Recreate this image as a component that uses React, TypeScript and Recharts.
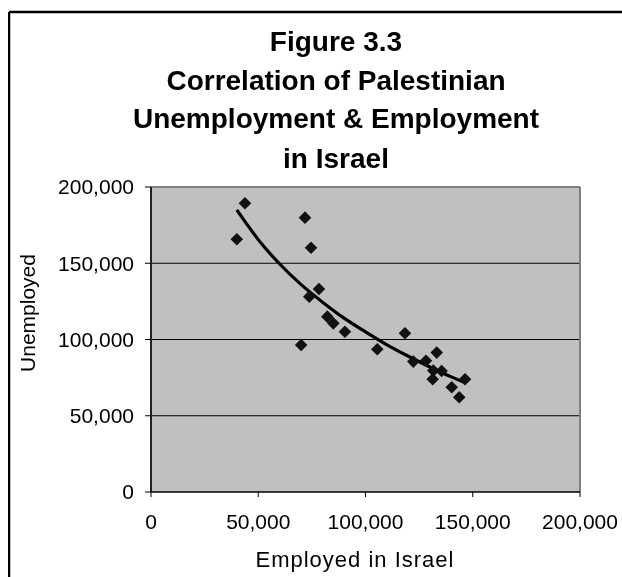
import React from "react";
import {
  CartesianGrid,
  ReferenceLine,
  Scatter,
  ScatterChart,
  XAxis,
  YAxis,
} from "recharts";

// observed years: employed in Israel vs unemployed
const employed = [
  43800, 40000, 71800, 74600, 78300, 73800, 82200, 85000, 70000, 90400, 105500,
  118400, 122300, 128200, 133200, 131600, 135500, 131300, 140200, 146400, 143700,
];
const unemployed = [
  189300, 165700, 179900, 160200, 133100, 128100, 115000, 110600, 96400, 105100,
  93600, 104100, 85500, 86100, 91400, 79600, 79300, 73900, 68700, 73900, 62100,
];

// trend line
const trendX = [
  40000, 45000, 50000, 60000, 70000, 80000, 90000, 100000, 110000, 120000,
  130000, 140000, 146000,
];
const trendY = [
  185000, 175000, 165500, 149500, 136000, 124500, 114000, 105000, 96500, 89000,
  82000, 75500, 72000,
];

const axisTicks = [0, 50000, 100000, 150000, 200000];
const gridValues = [50000, 100000, 150000];

const titleLines = [
  "Figure 3.3",
  "Correlation of Palestinian",
  "Unemployment & Employment",
  "in Israel",
];
const titleBaselines = [43, 81.5, 120, 160];

const FONT = "'Liberation Sans', Arial, Helvetica, sans-serif";

const points = employed.map((x, i) => ({ x, y: unemployed[i] }));
const trend = trendX.map((x, i) => ({ x, y: trendY[i] }));

const fmt = (v: number) => v.toLocaleString("en-US");

function Diamond(props: any) {
  const { cx, cy } = props;
  if (cx == null || cy == null) return null;
  const r = 6.3;
  return (
    <polygon
      points={`${cx},${cy - r} ${cx + r},${cy} ${cx},${cy + r} ${cx - r},${cy}`}
      fill="#111"
    />
  );
}

const NoDot = () => null;

export default function App() {
  const W = 614;
  const H = 569;
  return (
    <div
      style={{
        position: "fixed",
        left: 8,
        top: 8,
        width: W,
        height: H,
        overflow: "hidden",
      }}
    >
      <ScatterChart
        width={W}
        height={H}
        margin={{ top: 179, right: 42, left: 0, bottom: 13 }}
      >
        <CartesianGrid
          vertical={false}
          horizontalValues={gridValues}
          stroke="#000"
          strokeWidth={1.2}
          fill="#c0c0c0"
          fillOpacity={1}
        />
        <XAxis
          type="number"
          dataKey="x"
          domain={[0, 200000]}
          ticks={axisTicks}
          tickFormatter={fmt}
          height={72}
          tickSize={5}
          tickMargin={17}
          axisLine={{ stroke: "#000", strokeWidth: 1.5 }}
          tickLine={{ stroke: "#000" }}
          tick={{ fontSize: 21, fill: "#000", fontFamily: FONT }}
          allowDataOverflow
        />
        <YAxis
          type="number"
          dataKey="y"
          domain={[0, 200000]}
          ticks={axisTicks}
          tickFormatter={fmt}
          width={143}
          tickSize={6}
          tickMargin={11}
          axisLine={{ stroke: "#222", strokeWidth: 2 }}
          tickLine={{ stroke: "#000" }}
          tick={{ fontSize: 21, fill: "#000", fontFamily: FONT }}
          allowDataOverflow
        />
        <ReferenceLine y={200000} stroke="#808080" strokeWidth={2} />
        <ReferenceLine x={200000} stroke="#808080" strokeWidth={2} />
        <Scatter
          data={trend}
          line={{ stroke: "#000", strokeWidth: 3.2 }}
          lineJointType="monotoneX"
          shape={NoDot}
          isAnimationActive={false}
        />
        <Scatter data={points} shape={Diamond} isAnimationActive={false} />
      </ScatterChart>
      <svg
        width={W}
        height={H}
        style={{ position: "absolute", left: 0, top: 0, pointerEvents: "none" }}
      >
        <line x1={1} y1={4} x2={W} y2={4} stroke="#000" strokeWidth={2.5} />
        <line x1={1} y1={4} x2={1} y2={H} stroke="#000" strokeWidth={2.5} />
        {titleLines.map((t, i) => (
          <text
            key={t}
            x={328}
            y={titleBaselines[i]}
            textAnchor="middle"
            fontFamily={FONT}
            fontWeight="bold"
            fontSize={28}
            fill="#000"
          >
            {t}
          </text>
        ))}
        <text
          x={347}
          y={559}
          textAnchor="middle"
          fontFamily={FONT}
          fontSize={22}
          letterSpacing={1}
          fill="#000"
        >
          Employed in Israel
        </text>
        <text
          x={27}
          y={305}
          textAnchor="middle"
          fontFamily={FONT}
          fontSize={21}
          fill="#000"
          transform="rotate(-90 27 305)"
        >
          Unemployed
        </text>
      </svg>
    </div>
  );
}
